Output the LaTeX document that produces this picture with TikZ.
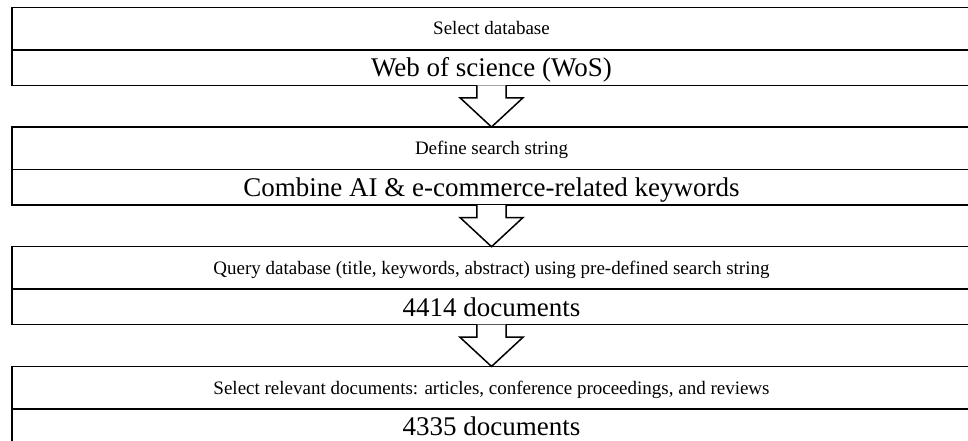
\documentclass[tikz,border=0pt]{standalone}
\usepackage{fontspec}
\setmainfont{Liberation Serif}
\usetikzlibrary{calc}
\tikzset{
  headbox/.style={draw=black, line width=1.5pt, rectangle, inner sep=0pt, outer sep=0pt,
    minimum width=959pt, minimum height=42.5pt, anchor=north west,
    font=\fontsize{19}{23}\selectfont, text height=12.8pt, text depth=0pt},
  valbox/.style={draw=black, line width=1.5pt, rectangle, inner sep=0pt, outer sep=0pt,
    minimum width=959pt, minimum height=35.5pt, anchor=north west,
    font=\fontsize{27}{32}\selectfont, text height=18.2pt, text depth=0pt},
  flowarrow/.style={draw=black, fill=white, line width=1.5pt, line join=miter}
}
\begin{document}
\begin{tikzpicture}[x=1pt,y=-1pt]
\useasboundingbox (0,0) rectangle (968,441);
\fill[white] (0,0) rectangle (968,441);

\node[headbox] (h1) at (12,7.3) {Select database};
\node[valbox] (v1) at (h1.south west) {Web of science (WoS)};

\node[headbox] (h2) at (12,127.0) {Define search string};
\node[valbox] (v2) at (h2.south west) {Combine AI \& e-commerce-related keywords};

\node[headbox] (h3) at (12,246.7) {Query database (title, keywords, abstract) using pre-defined search string};
\node[valbox] (v3) at (h3.south west) {4414 documents};

\node[headbox] (h4) at (12,366.4) {Select relevant documents: articles, conference proceedings, and reviews};
\node[valbox] (v4) at (h4.south west) {4335 documents};

\foreach \a/\b in {v1/h2, v2/h3, v3/h4}{
  \path[flowarrow] ($(\a.south)+(-14.7,0)$) -- ++(0,12.5) -- ++(-16.8,0) -- (\b.north)
    -- ($(\a.south)+(31.5,12.5)$) -- ++(-16.8,0) -- ++(0,-12.5);
}
\end{tikzpicture}
\end{document}
